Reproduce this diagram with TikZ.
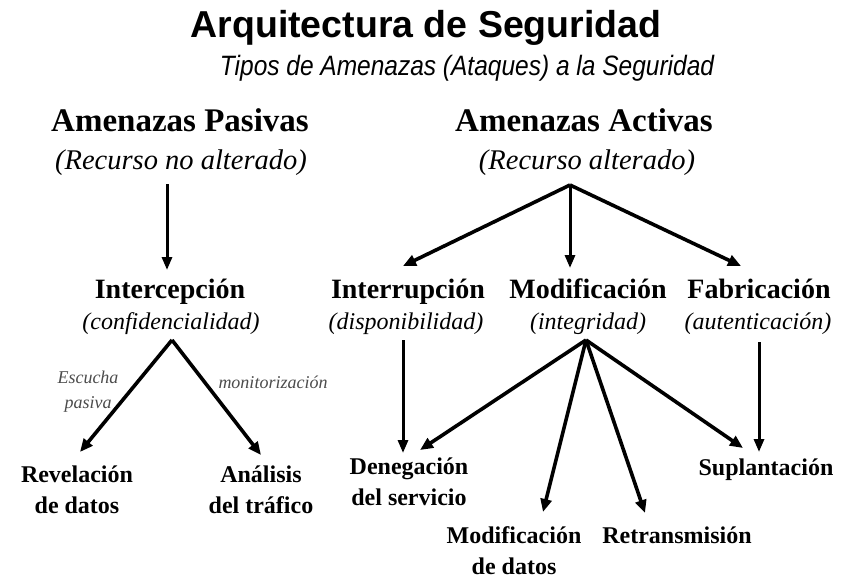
\documentclass[tikz,border=0pt]{standalone}
\usepackage{fontspec}
\setmainfont{Liberation Serif}
\newfontfamily\titlesans{Liberation Sans}
\newfontfamily\narrowsans[FakeStretch=0.875]{Liberation Sans}
\usetikzlibrary{arrows.meta}
\begin{document}
\begin{tikzpicture}[x=1pt,y=-1pt,
  arr/.style={line width=3.6pt,-{Triangle[length=13pt,width=11pt]}},
  varr/.style={line width=3pt,-{Triangle[length=13pt,width=10pt]}},
  head/.style={font=\fontsize{33}{37}\selectfont\bfseries,inner sep=0pt,anchor=base},
  sub/.style={font=\fontsize{28.5}{32}\selectfont\itshape,inner sep=0pt,anchor=base},
  mid/.style={font=\fontsize{28}{32}\selectfont\bfseries,inner sep=0pt,anchor=base},
  midsub/.style={font=\fontsize{24}{28}\selectfont\itshape,inner sep=0pt,anchor=base},
  leaf/.style={font=\fontsize{24}{31}\selectfont\bfseries,inner sep=0pt,align=center,anchor=base},
  lbl/.style={font=\fontsize{18}{25}\selectfont\itshape,text=black!70,inner sep=0pt,align=center,anchor=base}]
\useasboundingbox (0,0) rectangle (854,587);
\fill[white] (0,0) rectangle (854,587);
% titles
\node[inner sep=0pt,anchor=base,font=\titlesans\fontsize{37.5}{40}\selectfont\bfseries] (title) at (426,37) {Arquitectura de Seguridad};
\node[inner sep=0pt,anchor=base,font=\narrowsans\fontsize{28}{32}\selectfont\itshape] (subtitle) at (467,75) {Tipos de Amenazas (Ataques) a la Seguridad};
% level 1
\node[head] (pas) at (180,131) {Amenazas Pasivas};
\node[sub] (passub) at (181,169) {(Recurso no alterado)};
\node[head] (act) at (584,131) {Amenazas Activas};
\node[sub] (actsub) at (587,169) {(Recurso alterado)};
% level 2
\node[mid] (inte) at (170,298) {Intercepción};
\node[midsub] (intesub) at (171,329) {(confidencialidad)};
\node[mid] (intr) at (408,298) {Interrupción};
\node[midsub] (intrsub) at (406,329) {(disponibilidad)};
\node[mid] (modi) at (588,298) {Modificación};
\node[midsub] (modisub) at (588,329) {(integridad)};
\node[mid] (fabr) at (759,298) {Fabricación};
\node[midsub] (fabrsub) at (758,329) {(autenticación)};
% leaves (anchor = baseline of last line)
\node[leaf] (revel) at (77,513) {Revelación\\de datos};
\node[leaf] (anal) at (261,513) {Análisis\\del tráfico};
\node[leaf] (deneg) at (409,505) {Denegación\\del servicio};
\node[leaf] (supl) at (766,475) {Suplantación};
\node[leaf] (moddat) at (514,574) {Modificación\\de datos};
\node[leaf] (retr) at (677,543) {Retransmisión};
% labels
\node[lbl] (esc) at (88,408) {Escucha\\pasiva};
\node[lbl] (mon) at (273,388) {monitorización};
% connector points
\coordinate (pA) at (167,184);
\coordinate (pB) at (167,270);
\coordinate (aA) at (570,185);
\coordinate (iA) at (172,340);
\coordinate (intrA) at (403,340);
\coordinate (intrB) at (403,453);
\coordinate (mA) at (586,340);
\coordinate (fA) at (759,342);
\coordinate (fB) at (759,452);
% arrows
\draw[varr] (pA) -- (pB);
\draw[arr] (aA) -- (403,266);
\draw[varr] (aA) -- (570,268);
\draw[arr] (aA) -- (741,266);
\draw[arr] (iA) -- (80,452);
\draw[arr] (iA) -- (261,455);
\draw[varr] (intrA) -- (intrB);
\draw[arr] (mA) -- (420,450);
\draw[arr] (mA) -- (543,512);
\draw[arr] (mA) -- (645,513);
\draw[arr] (mA) -- (743,448);
\draw[varr] (fA) -- (fB);
\end{tikzpicture}
\end{document}
